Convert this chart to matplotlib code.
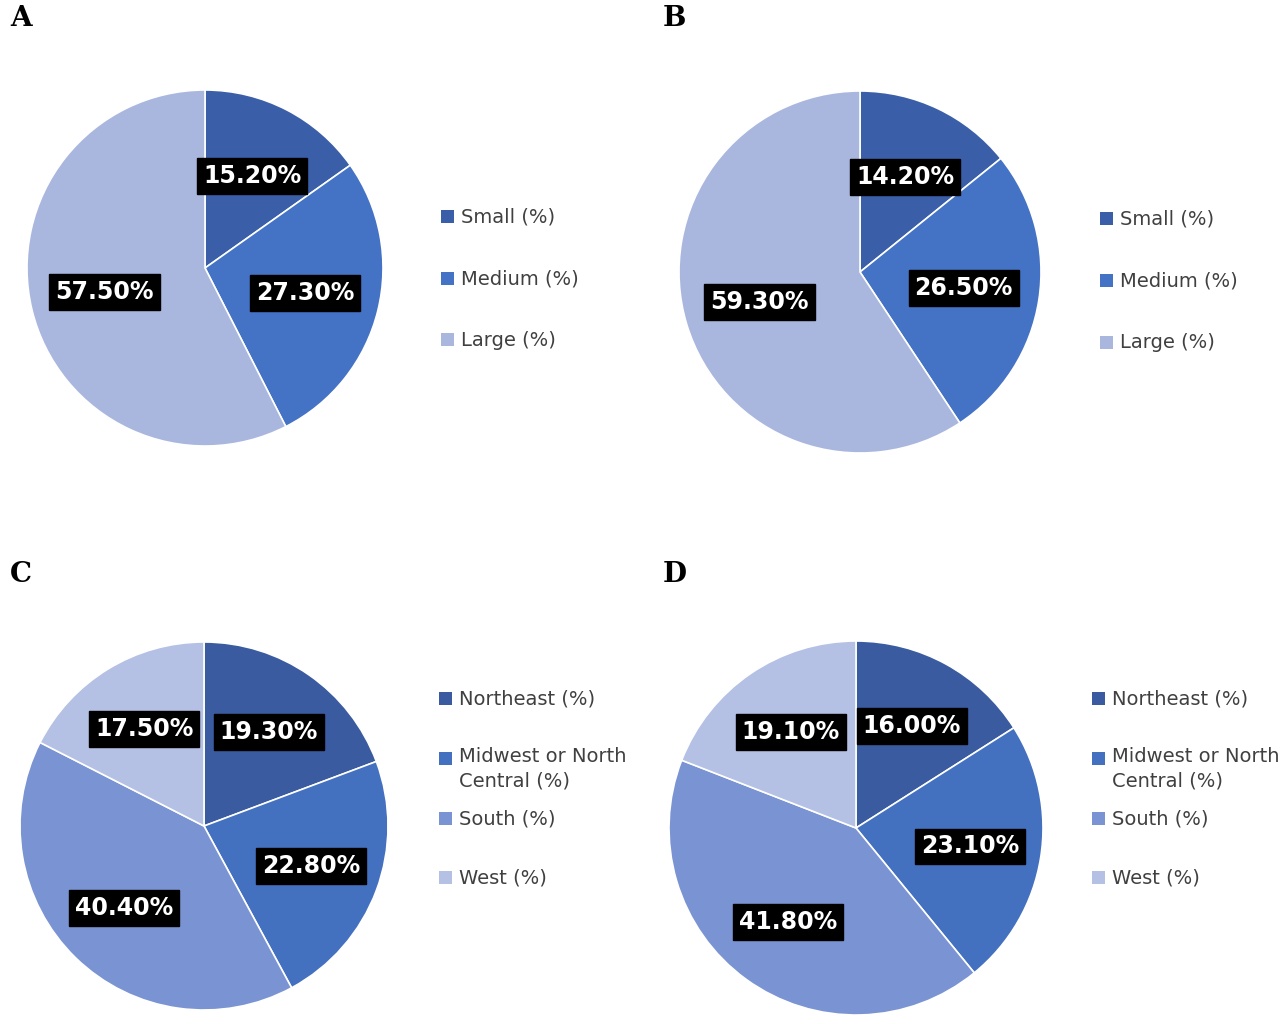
import matplotlib
matplotlib.use("Agg")
import matplotlib.pyplot as plt
from matplotlib.patches import Rectangle

size_labels = ["Small (%)", "Medium (%)", "Large (%)"]
size_A = [15.2, 27.3, 57.5]
size_B = [14.2, 26.5, 59.3]
region_labels = ["Northeast (%)", "Midwest or North\nCentral (%)", "South (%)", "West (%)"]
region_C = [19.3, 22.8, 40.4, 17.5]
region_D = [16.0, 23.1, 41.8, 19.1]

size_colors = ["#3A5FA8", "#4472C4", "#A9B6DE"]
region_colors = ["#3A5BA0", "#4470C0", "#7A93D2", "#B4C0E4"]

W, H = 1280, 1024
fig = plt.figure(figsize=(12.8, 10.24), dpi=100)

def pie(cx, cy, r, vals, colors, labels, legx, legys, letter, lx, ly, pctd):
    ax = fig.add_axes([(cx - r) / W, 1 - (cy + r) / H, 2 * r / W, 2 * r / H])
    wedges, _, autos = ax.pie(vals, colors=colors, startangle=90, counterclock=False,
                              autopct=lambda p: f"{p:.2f}%", pctdistance=pctd,
                              wedgeprops=dict(edgecolor="white", linewidth=1.2))
    for t in autos:
        t.set_color("white"); t.set_fontsize(17); t.set_fontweight("bold")
        t.set_bbox(dict(facecolor="black", edgecolor="black", boxstyle="square,pad=0.25"))
    ax.set_xlim(-1, 1); ax.set_ylim(-1, 1)
    ax.set_aspect("equal")
    for lab, c, y in zip(labels, colors, legys):
        fig.patches.append(Rectangle((legx / W, 1 - (y + 6) / H), 13 / W, 13 / H,
                                     facecolor=c, transform=fig.transFigure))
        if "\n" in lab:
            fig.text((legx + 20) / W, 1 - (y - 12) / H, lab, fontsize=14, color="#404040",
                     va="top", ha="left", linespacing=1.35)
        else:
            fig.text((legx + 20) / W, 1 - y / H, lab, fontsize=14, color="#404040",
                     va="center", ha="left")
    fig.text(lx / W, 1 - ly / H, letter, fontsize=20, fontweight="bold",
             family="DejaVu Serif", va="center")

pie(205, 268, 178, size_A, size_colors, size_labels, 441, [217, 279, 340], "A", 10, 18, 0.58)
pie(860, 272, 181, size_B, size_colors, size_labels, 1100, [219, 281, 343], "B", 663, 18, 0.58)
pie(204, 826, 184, region_C, region_colors, region_labels, 439, [699, 759, 819, 878], "C", 10, 574, 0.62)
pie(856, 828, 187, region_D, region_colors, region_labels, 1092, [699, 759, 819, 878], "D", 663, 574, 0.62)

fig.savefig("out.png", dpi=100, facecolor="white")
